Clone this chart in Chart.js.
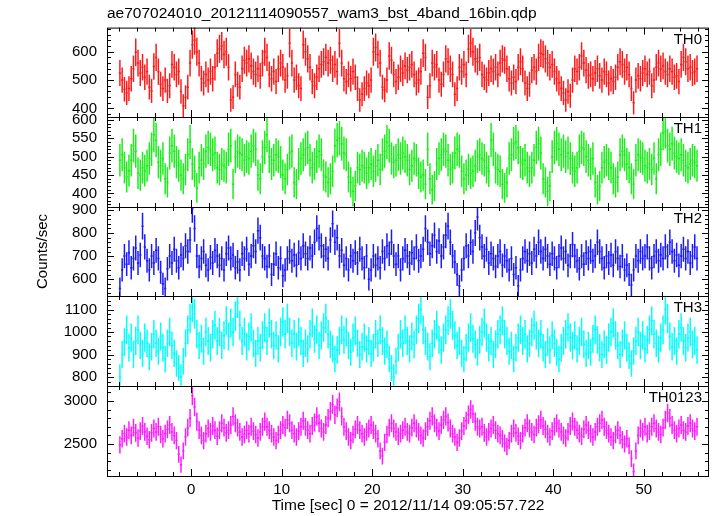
<!DOCTYPE html>
<html>
<head>
<meta charset="utf-8">
<script src="https://cdn.jsdelivr.net/npm/chart.js@4.4.1/dist/chart.umd.min.js"></script>
<style>
body { margin: 0; background: #fff; }
#wrap { position: relative; width: 717px; height: 516px; overflow: hidden; }
#wrap canvas { position: absolute; left: 0; }
</style>
</head>
<body>
<div id="wrap">
  <canvas id="p0"></canvas>
  <canvas id="p1"></canvas>
  <canvas id="p2"></canvas>
  <canvas id="p3"></canvas>
  <canvas id="p4"></canvas>
</div>
<script>
// light curve bins: 0.25 s starting at -8 s
const binStart = -8;
const binSize = 0.25;

const th0 = [
  525,500,468,455,470,505,540,598,560,525,545,510,530,475,462,548,
  580,530,485,470,500,462,480,555,545,520,530,460,410,440,475,560,
  625,640,600,560,505,490,520,500,530,505,545,595,610,620,590,600,
  545,430,440,520,485,475,540,570,560,575,550,530,520,540,515,560,
  600,580,520,505,530,495,540,560,545,500,515,630,560,500,510,480,
  470,625,600,575,545,495,480,510,540,555,565,580,560,570,540,555,
  530,630,560,505,495,520,505,530,510,470,430,450,470,490,480,500,
  600,615,590,560,475,465,500,585,570,520,495,510,540,525,550,535,
  545,555,520,490,500,530,595,580,440,480,560,545,555,500,485,520,
  575,565,540,520,450,470,545,530,555,520,610,630,600,575,565,580,
  520,510,500,525,540,530,545,520,560,575,570,540,505,490,510,495,
  545,565,540,490,470,485,535,545,530,580,595,590,575,560,545,555,
  530,505,490,470,455,430,460,445,500,540,530,545,585,560,535,515,
  520,505,525,540,515,500,530,520,490,505,495,510,545,565,555,530,
  545,520,470,420,500,515,505,525,540,520,530,480,500,545,560,540,
  550,530,520,540,530,510,515,495,555,580,565,540,545,525,530,540
];
const th1 = [
  490,505,470,445,462,490,530,515,455,450,470,462,475,495,520,560,
  545,485,475,495,440,430,510,530,515,485,475,450,440,465,505,540,
  480,460,415,470,490,480,515,525,520,505,510,470,465,480,475,470,
  520,530,425,500,515,510,505,490,500,495,515,530,520,450,440,500,
  525,560,500,480,490,505,500,485,450,440,465,510,515,430,425,480,
  495,505,520,525,490,470,480,500,515,505,450,445,430,440,460,530,
  545,550,535,510,505,445,430,405,420,470,465,475,470,455,470,480,
  460,475,490,465,505,515,540,530,495,485,490,505,495,510,500,490,
  465,475,495,490,455,445,450,425,520,440,410,420,480,495,505,520,
  515,490,465,470,510,520,515,460,440,450,465,455,460,475,500,505,
  495,490,470,460,545,520,470,465,460,425,415,430,495,505,535,540,
  525,485,480,490,470,460,470,490,525,535,510,440,430,405,420,500,
  525,535,520,505,515,500,510,495,470,460,470,515,525,520,500,490,
  480,495,430,410,420,470,485,490,480,470,440,430,445,505,515,505,
  480,470,440,425,490,505,500,495,475,470,480,465,495,440,505,520,
  565,570,530,520,535,510,500,495,505,490,475,470,480,490,485,475
];
const th2 = [
  560,640,700,665,715,650,690,735,670,705,830,740,680,640,700,670,
  725,690,630,580,560,645,700,670,730,680,650,705,690,745,720,770,
  905,820,700,655,690,720,660,640,695,670,725,700,660,690,640,710,
  735,690,705,650,675,640,710,690,730,665,700,745,720,810,780,700,
  690,655,700,620,665,710,650,690,615,640,690,720,680,705,660,715,
  690,745,710,690,735,700,760,820,780,745,700,730,690,770,840,760,
  780,700,725,660,690,640,700,680,715,670,730,690,650,700,600,640,
  700,660,690,650,720,690,745,710,760,700,665,700,640,690,725,700,
  670,715,690,740,680,700,730,820,760,710,745,790,720,765,700,740,
  790,830,760,700,675,620,570,640,690,745,700,760,720,800,870,780,
  740,700,730,670,710,690,655,700,720,660,700,680,640,690,620,650,
  570,640,690,720,680,710,670,730,700,760,720,690,730,700,665,710,
  690,650,700,735,690,720,660,700,750,700,680,645,700,665,715,690,
  720,680,700,760,720,690,650,700,670,705,660,720,690,655,700,640,
  660,620,575,640,700,680,720,690,700,740,690,650,700,720,680,705,
  690,740,700,760,720,680,705,660,700,730,690,720,670,700,740,690
];
const th3 = [
  800,900,955,1010,930,975,900,960,1010,940,905,975,950,890,935,990,
  950,915,980,930,880,950,1000,940,905,860,840,800,870,950,1010,1060,
  1110,1080,990,940,970,915,1000,960,930,990,1030,960,1000,940,985,1050,
  980,1040,1000,1070,1130,1030,960,1000,935,980,1020,950,905,960,930,985,
  1020,960,1040,990,940,985,925,1000,1045,990,1060,1000,950,990,935,1000,
  960,905,950,925,990,1040,970,1010,940,985,1020,1060,990,945,925,880,
  920,960,1010,965,1000,940,910,975,1005,950,900,935,975,925,960,905,
  930,990,950,1010,960,915,945,880,840,800,870,930,990,950,1010,960,
  925,980,945,1010,1060,1100,1010,960,935,890,950,990,1030,965,920,975,
  1010,1050,1080,1030,985,940,960,905,880,930,975,1020,970,945,910,965,
  1000,1040,975,930,960,900,945,990,1010,1050,990,960,915,940,880,930,
  975,1010,960,990,925,950,1000,1030,985,950,990,930,900,955,920,985,
  950,910,880,930,960,990,1020,975,940,985,925,960,1000,945,905,940,
  910,970,1010,965,930,900,945,920,975,1000,1040,985,940,900,950,985,
  930,895,860,915,960,1000,940,985,925,965,1010,1050,990,950,925,975,
  1010,1100,1060,980,935,960,915,990,1020,960,930,975,1000,945,960,920
];
const th0123 = [
  2490,2560,2620,2580,2660,2600,2690,2630,2570,2650,2710,2640,2590,2550,2630,2680,
  2640,2700,2610,2560,2620,2670,2720,2640,2600,2540,2380,2260,2420,2580,2690,2800,
  3060,2930,2760,2660,2600,2540,2620,2680,2640,2710,2660,2590,2660,2740,2690,2630,
  2660,2720,2820,2740,2690,2640,2580,2610,2660,2620,2700,2650,2610,2570,2640,2700,
  2760,2700,2660,2620,2580,2540,2610,2660,2720,2690,2780,2740,2660,2620,2580,2650,
  2700,2770,2700,2660,2620,2710,2750,2820,2740,2680,2640,2720,2800,2880,2960,2840,
  2920,2990,2820,2700,2650,2580,2540,2610,2670,2720,2660,2620,2580,2640,2680,2720,
  2660,2620,2560,2420,2360,2520,2610,2690,2740,2680,2640,2590,2620,2660,2700,2640,
  2620,2690,2740,2680,2640,2600,2570,2650,2700,2770,2820,2740,2690,2650,2720,2780,
  2820,2750,2680,2620,2580,2520,2570,2650,2710,2770,2840,2900,2850,2760,2700,2680,
  2700,2630,2580,2640,2680,2720,2660,2620,2600,2560,2510,2470,2540,2620,2680,2630,
  2590,2540,2620,2690,2740,2680,2640,2610,2690,2730,2780,2710,2670,2620,2580,2650,
  2700,2740,2680,2640,2600,2570,2640,2710,2760,2700,2660,2620,2590,2670,2720,2660,
  2620,2580,2640,2700,2740,2780,2700,2660,2620,2580,2540,2610,2660,2600,2550,2500,
  2560,2480,2330,2180,2420,2600,2680,2640,2700,2620,2650,2700,2740,2680,2640,2610,
  2690,2780,2860,2800,2720,2660,2620,2680,2720,2660,2640,2710,2740,2680,2650,2700
];

// tick labels
const timeTicks = [0, 10, 20, 30, 40, 50];
const th0Ticks = [400, 500, 600];
const th1Ticks = [400, 450, 500, 550, 600];
const th2Ticks = [600, 700, 800, 900];
const th3Ticks = [800, 900, 1000, 1100];
const th0123Ticks = [2500, 3000];

const bandNames = ['TH0', 'TH1', 'TH2', 'TH3', 'TH0123'];
const bandColors = ['#ff1a1a', '#1aee1a', '#1a1aff', '#00ffff', '#ff1aff'];
const series = [th0, th1, th2, th3, th0123];
const yTicks = [th0Ticks, th1Ticks, th2Ticks, th3Ticks, th0123Ticks];
const yMin = [370, 363, 527, 760, 2128];
const yMax = [685, 608, 913, 1160, 3174];
const yMajor = [100, 50, 100, 100, 500];
const yMinor = [20, 10, 20, 20, 100];

const titleText = 'ae707024010_20121114090557_wam3_bst_4band_16bin.qdp';
const xTitle = 'Time [sec] 0 = 2012/11/14 09:05:57.722';
const xMin = -9.3, xMax = 57.2;

// panel edges in the page (pixels)
const edges = [27, 117, 207, 296, 386, 476];

Chart.defaults.font.family = "'Liberation Sans', Arial, sans-serif";
Chart.defaults.color = '#000';

// error bars, frame, inward ticks and band label
const qdpPlugin = {
    id: 'qdp',
    afterDatasetsDraw(chart, args, opts) {
        const ctx = chart.ctx;
        const a = chart.chartArea;
        const xs = chart.scales.x;
        const ys = chart.scales.y;

        ctx.save();
        ctx.beginPath();
        ctx.rect(a.left, a.top, a.right - a.left, a.bottom - a.top);
        ctx.clip();
        ctx.strokeStyle = opts.color;
        ctx.lineWidth = 1.5;
        ctx.beginPath();
        chart.data.datasets[0].data.forEach(p => {
            const xc = xs.getPixelForValue(p.x);
            const xl = xs.getPixelForValue(p.x - binSize / 2);
            const xr = xs.getPixelForValue(p.x + binSize / 2);
            const yc = ys.getPixelForValue(p.y);
            ctx.moveTo(xl, yc);
            ctx.lineTo(xr, yc);
            ctx.moveTo(xc, ys.getPixelForValue(p.y + p.e));
            ctx.lineTo(xc, ys.getPixelForValue(p.y - p.e));
        });
        ctx.stroke();
        ctx.restore();

        ctx.save();
        ctx.strokeStyle = '#000';
        ctx.lineWidth = 1;
        ctx.strokeRect(a.left + 0.5, a.top + 0.5, a.right - a.left - 1, a.bottom - a.top);
        ctx.beginPath();
        for (let v = -8; v <= 56; v += 2) {
            const px = Math.round(xs.getPixelForValue(v)) + 0.5;
            const len = v % 10 === 0 ? 7 : 4;
            ctx.moveTo(px, a.top);
            ctx.lineTo(px, a.top + len);
            ctx.moveTo(px, a.bottom);
            ctx.lineTo(px, a.bottom - len);
        }
        const step = opts.minor;
        for (let v = Math.ceil(ys.min / step) * step; v <= ys.max; v += step) {
            const py = Math.round(ys.getPixelForValue(v)) + 0.5;
            const len = v % opts.major === 0 ? 7 : 4;
            ctx.moveTo(a.left, py);
            ctx.lineTo(a.left + len, py);
            ctx.moveTo(a.right, py);
            ctx.lineTo(a.right - len, py);
        }
        ctx.stroke();

        ctx.fillStyle = '#000';
        ctx.font = "15px 'Liberation Sans', Arial, sans-serif";
        ctx.textAlign = 'right';
        ctx.textBaseline = 'alphabetic';
        ctx.fillText(opts.label, a.right - 7, a.top + 16);
        ctx.restore();
    }
};

function makePanel(i) {
    const canvas = document.getElementById('p' + i);
    const isTop = i === 0;
    const isBottom = i === 4;
    const top = isTop ? 0 : edges[i] - 12;
    const bottom = isBottom ? 516 : edges[i + 1] + 12;
    canvas.width = 717;
    canvas.height = bottom - top;
    canvas.style.top = top + 'px';
    canvas.style.width = '717px';
    canvas.style.height = (bottom - top) + 'px';

    const points = series[i].map((v, k) => ({
        x: binStart + binSize / 2 + k * binSize,
        y: v,
        e: Math.sqrt(v / binSize)
    }));

    const xScale = {
        type: 'linear',
        min: xMin,
        max: xMax,
        display: isBottom,
        grid: { display: false, drawTicks: false, tickLength: 0 },
        border: { display: false },
        ticks: {
            autoSkip: false,
            maxRotation: 0,
            padding: 5,
            font: { size: 15 },
            callback: v => String(v)
        },
        title: {
            display: true,
            text: xTitle,
            font: { size: 15.5 },
            padding: { top: 0, bottom: 1 }
        },
        afterBuildTicks: s => { s.ticks = timeTicks.map(v => ({ value: v })); }
    };
    if (isBottom) {
        xScale.afterFit = s => {
            s.height = 40;
            s.paddingLeft = 0;
            s.paddingRight = 0;
        };
    }

    return new Chart(canvas, {
        type: 'scatter',
        data: {
            datasets: [{
                data: points,
                pointRadius: 0,
                showLine: false
            }]
        },
        plugins: [qdpPlugin],
        options: {
            responsive: false,
            animation: false,
            events: [],
            layout: {
                padding: {
                    left: 0,
                    right: 8,
                    top: isTop ? 0 : 12,
                    bottom: isBottom ? 0 : 12
                }
            },
            scales: {
                x: xScale,
                y: {
                    type: 'linear',
                    min: yMin[i],
                    max: yMax[i],
                    grid: { display: false, drawTicks: false, tickLength: 0 },
                    border: { display: false },
                    ticks: {
                        autoSkip: false,
                        padding: 10,
                        font: { size: 15 },
                        callback: v => String(v)
                    },
                    title: {
                        display: i === 2,
                        text: 'Counts/sec',
                        font: { size: 15 },
                        padding: { top: 34, bottom: 0 }
                    },
                    afterBuildTicks: s => { s.ticks = yTicks[i].map(v => ({ value: v })); },
                    afterFit: s => {
                        s.width = 107;
                        s.paddingTop = 0;
                        s.paddingBottom = 0;
                    }
                }
            },
            plugins: {
                legend: { display: false },
                tooltip: { enabled: false },
                title: {
                    display: isTop,
                    text: titleText,
                    align: 'start',
                    fullSize: false,
                    font: { size: 15.5, weight: 'normal' },
                    padding: { top: 4, bottom: 5 }
                },
                qdp: {
                    color: bandColors[i],
                    label: bandNames[i],
                    major: yMajor[i],
                    minor: yMinor[i]
                }
            }
        }
    });
}

for (let i = 0; i < 5; i++) {
    makePanel(i);
}
</script>
</body>
</html>
